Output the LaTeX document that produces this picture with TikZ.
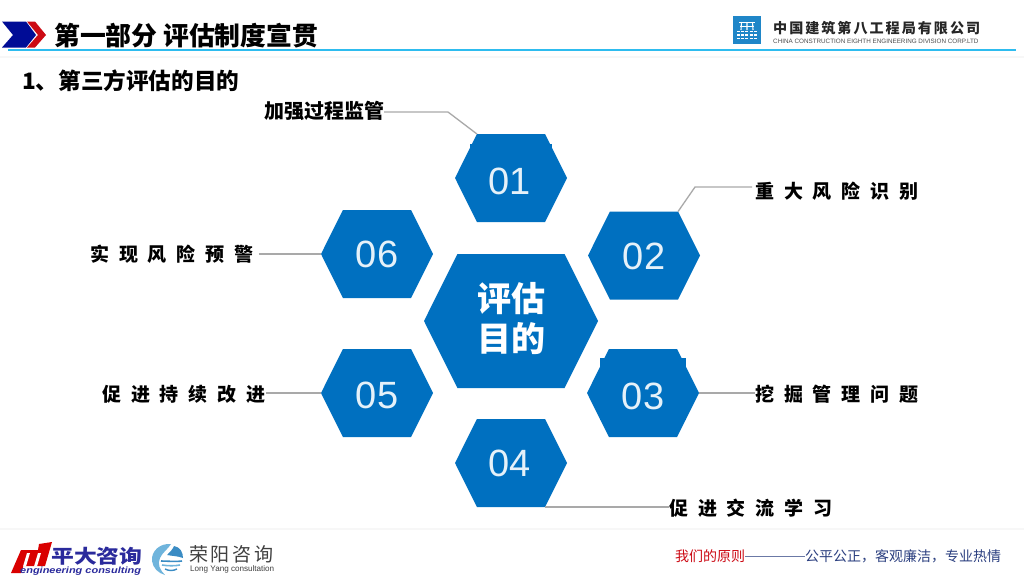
\documentclass[tikz,border=0pt]{standalone}
\usepackage{fontspec}
\setmainfont{Liberation Sans}
\newfontfamily\cjk{Noto Sans CJK SC}
\newfontfamily\cjksp[LetterSpace=52]{Noto Sans CJK SC}
\newfontfamily\cjkwide[LetterSpace=14]{Noto Sans CJK SC}
\usetikzlibrary{shapes.symbols}
\definecolor{hexblue}{HTML}{0070C0}
\definecolor{rulecyan}{HTML}{2EBCEF}
\definecolor{leadgrey}{HTML}{A9A9A9}
\definecolor{navy}{HTML}{2B3F80}
\definecolor{logonavy}{HTML}{2A2A9C}
\definecolor{chevblue}{HTML}{000C96}
\definecolor{chevred}{HTML}{CC0A14}
\definecolor{swirl}{HTML}{3A8CC4}
\definecolor{swirlb}{HTML}{6FB4DC}
\definecolor{csblue}{HTML}{1F86C8}
\tikzset{
  hexa/.style={shape=signal, signal to=east and west, signal pointer angle=127, fill=hexblue, draw=none, inner sep=0pt, outer sep=0pt, minimum width=112pt, minimum height=88pt, text=white!90!hexblue, font=\fontsize{38}{38}\selectfont, text height=32pt, text depth=5pt},
  hexlow/.style={hexa, text height=38pt},
  hexlowb/.style={hexa, text height=36pt},
  hexbig/.style={shape=signal, signal to=east and west, signal pointer angle=127, fill=hexblue, draw=none, inner sep=0pt, outer sep=0pt, text=white, minimum width=174pt, minimum height=134pt, align=center, font=\cjk\bfseries\fontsize{34}{41}\selectfont},
  lead/.style={draw=leadgrey, line width=1.3pt},
  lblsp/.style={font=\cjksp\bfseries\fontsize{19}{19}\selectfont, inner sep=0pt, text=black, anchor=west},
  lblplain/.style={font=\cjk\bfseries\fontsize{20}{20}\selectfont, inner sep=0pt, text=black}
}
\begin{document}
\begin{tikzpicture}[x=1pt,y=-1pt]
\useasboundingbox (0,0) rectangle (1024,576);
\fill[white] (0,0) rectangle (1024,576);
% header
\fill[chevblue] (2,21.5) -- (26,21.5) -- (36,35) -- (26,47.5) -- (2,47.5) -- (13,35) -- cycle;
\fill[chevred] (27,21.5) -- (35,21.5) -- (46,35) -- (35,47.5) -- (27,47.5) -- (38,35) -- cycle;
\node[font=\cjk\bfseries\fontsize{25.8}{25.8}\selectfont, inner sep=0pt, anchor=west] (title) at (54,36) {第一部分 评估制度宣贯};
\draw[rulecyan, line width=1.3pt] (8,50) -- (1016,50);
\fill[black!3] (0,56) rectangle (1024,58);
\node[font=\cjk\bfseries\fontsize{22.6}{22.6}\selectfont, inner sep=0pt, anchor=west] (sub) at (22,81) {1、第三方评估的目的};
% cscec logo
\fill[csblue] (733,16) rectangle (761,44);
\draw[white, line width=0.9pt] (739,22.5) -- (755,22.5) (740,26) -- (754,26);
\draw[white, line width=1.1pt] (741.5,22) -- (741,30) (747,22) -- (747,30) (752.5,22) -- (753,30);
\foreach \r in {31.5,35,38.5} \draw[white, line width=1.5pt, dash pattern=on 3pt off 1.2pt] (737,\r) -- (757,\r);
\node[font=\cjkwide\bfseries\fontsize{14.1}{14.1}\selectfont, inner sep=0pt, anchor=west, text=black!85] (co) at (773,28) {中国建筑第八工程局有限公司};
\node[font=\fontsize{6.3}{6.3}\selectfont, inner sep=0pt, anchor=west, text=black!70] (coen) at (773,41) {CHINA CONSTRUCTION EIGHTH ENGINEERING DIVISION CORP.LTD};
% small blocks behind hexagons 01 and 03
\fill[hexblue] (470,144) rectangle (552,200);
\fill[hexblue] (600,358) rectangle (686,420);
% hexagons
\node[hexlow] (h1) at (511,178) {\kern-3pt 01};
\node[hexa] (h2) at (644,255.5) {02};
\node[hexlow] (h3) at (643,393) {03};
\node[hexa] (h4) at (511,463) {\kern-3pt 04};
\node[hexlowb] (h5) at (377,393) {05};
\node[hexa] (h6) at (377,254) {06};
\node[hexbig] (c) at (511,321) {评估\\[-1pt]目的\rule[-9pt]{0pt}{9pt}};
% labels
\node[lblplain, anchor=east] (l1) at (385,111) {加强过程监管};
\node[lblsp] (l2) at (755,191) {重大风险识别};
\node[lblsp] (l3) at (755,394) {挖掘管理问题};
\node[lblsp] (l4) at (669,508) {促进交流学习};
\node[lblsp] (l5) at (102,394) {促进持续改进};
\node[lblsp] (l6) at (90,254) {实现风险预警};
% connectors
\coordinate (b1) at (448,112);
\coordinate (b2) at (695,187);
\coordinate (e2) at (752,187);
\coordinate (s1) at (384,112);
\draw[lead] (s1) -- (b1) -- (h1.north west);
\draw[lead] (h2.north east) -- (b2) -- (e2);
\draw[lead] (h3.east) -- (h3.east -| l3.west);
\draw[lead] (h4.south east) -- (h4.south east -| l4.west);
\draw[lead] (h5.west -| l5.east) -- (h5.west);
\draw[lead] ([xshift=5pt]h6.west -| l6.east) -- (h6.west);
% footer
\fill[black!3] (0,528) rectangle (1024,530);
\node[font=\cjk\fontsize{14}{14}\selectfont, inner sep=0pt, anchor=west, text=chevred] (f1) at (675,556) {我们的原则};
\node[font=\cjk\fontsize{14}{14}\selectfont, inner sep=0pt, anchor=west, text=navy] (f2) at (805,556) {公平公正，客观廉洁，专业热情};
\draw[navy!70, line width=0.8pt] (f1.east) -- (f2.west);
% pd logo
\fill[red!85!black] (21,550) -- (38,550) -- (39,544) -- (52,542) -- (45,566) -- (23.5,566) -- (21,573) -- (11,573) -- cycle;
\fill[white] (27,553) -- (30,553) -- (26,566.5) -- (23,566.5) -- cycle;
\fill[white] (38,553) -- (41,553) -- (37,566.5) -- (34,566.5) -- cycle;
\node[font=\cjk\bfseries\fontsize{19}{19}\selectfont, inner sep=0pt, anchor=west, text=logonavy] (pda) at (51,556.5) {\scalebox{1.2}[1]{平大咨询}};
\node[font=\bfseries\itshape\fontsize{9}{9}\selectfont, inner sep=0pt, anchor=west, text=logonavy] (pdb) at (20,571.5) {\scalebox{1.22}[1]{engineering consulting}};
% swirl logo
\fill[swirlb] (171,544) .. controls (160,543) and (151,551) .. (152,561) .. controls (153,568) and (158,573) .. (165,575) .. controls (160,570) and (157,564) .. (160,558) .. controls (162,553) and (168,549) .. (171,544) -- cycle;
\fill[swirl] (167,555) .. controls (172,556) and (178,556) .. (183,558) .. controls (183,552) and (180,547) .. (174,546) .. controls (173,549) and (170,552) .. (167,555) -- cycle;
\draw[swirl, line width=1.6pt] (161,561) .. controls (168,561) and (176,562) .. (182,561);
\draw[swirlb, line width=1.6pt] (162,565) .. controls (168,566) and (175,566) .. (180,565);
\draw[swirl, line width=1.4pt] (165,569) .. controls (169,571) and (173,571) .. (177,569);
\node[font=\cjkwide\fontsize{19}{19}\selectfont, inner sep=0pt, anchor=west, text=black!75] (ry) at (189,554) {荣阳咨询};
\node[font=\fontsize{8.1}{8.1}\selectfont, inner sep=0pt, anchor=west, text=black!75] (rye) at (190,569) {Long Yang consultation};
\end{tikzpicture}
\end{document}
